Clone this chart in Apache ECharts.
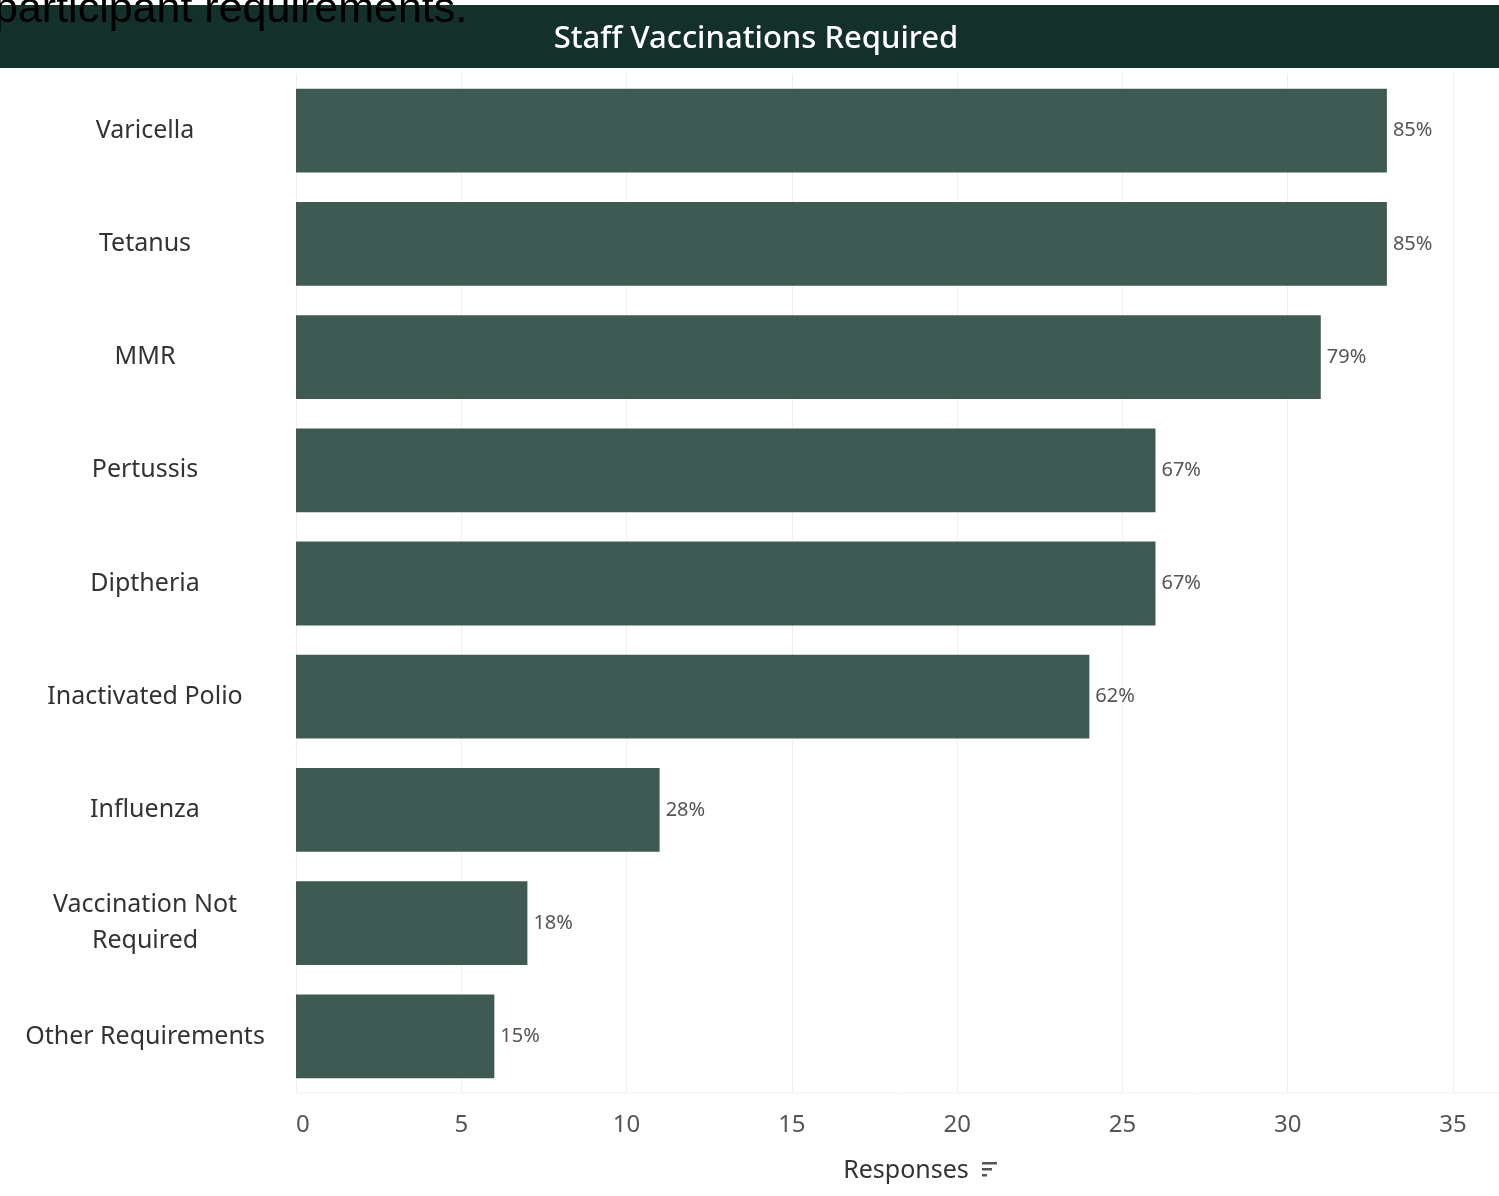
<!DOCTYPE html>
<html>
<head>
<meta charset="utf-8">
<script src="https://cdn.jsdelivr.net/npm/echarts@6/dist/echarts.min.js"></script>
<style>
html,body{margin:0;padding:0;background:#fff;}
#c{width:1499px;height:1196px;}
</style>
</head>
<body>
<div id="c"></div>
<script>
const categories = ["Varicella","Tetanus","MMR","Pertussis","Diptheria","Inactivated Polio","Influenza","Vaccination Not\nRequired","Other Requirements"];
const responses = [33,33,31,26,26,24,11,7,6];
const pctLabels = ["85%","85%","79%","67%","67%","62%","28%","18%","15%"];
const xTicks = [0,5,10,15,20,25,30,35];

const chart = echarts.init(document.getElementById('c'));
const font = "'Noto Sans', 'Open Sans', sans-serif";
chart.setOption({
  animation:false,
  backgroundColor:'#fff',
  grid:{left:296,right:46,top:74,bottom:103,containLabel:false},
  xAxis:{
    type:'value',min:0,max:35,interval:5,
    axisLine:{show:false},axisTick:{show:false},
    splitLine:{show:true,lineStyle:{color:'#efefef',width:1}},
    axisLabel:{fontFamily:font,fontSize:24,color:'#555',margin:20,alignMinLabel:'left',
      formatter:v=>xTicks.includes(v)?String(v):''}
  },
  yAxis:{
    type:'category',data:categories,inverse:true,
    axisLine:{show:false},axisTick:{show:false},
    axisLabel:{fontFamily:font,fontSize:25,color:'#333',align:'center',margin:151,lineHeight:36,padding:[6,0,0,0]}
  },
  series:[{
    type:'bar',data:responses,barCategoryGap:'26%',
    itemStyle:{color:'#3f5a53'},
    label:{show:true,position:'right',distance:6,fontFamily:font,fontSize:20,color:'#555',
      formatter:p=>pctLabels[p.dataIndex]}
  }],
  graphic:[
    {type:'line',shape:{x1:296,y1:1093,x2:1499,y2:1093},style:{stroke:'#efefef',lineWidth:1},z:-1},
    {type:'rect',shape:{x:0,y:5,width:1499,height:63},style:{fill:'#13302b'},z:10},
    {type:'text',x:756,y:39,style:{text:'Staff Vaccinations Required',fill:'#fff',font:"500 31px 'Noto Sans', sans-serif",textAlign:'center',textVerticalAlign:'middle'},z:11},
    {type:'text',x:-6,y:-11,style:{text:'participant requirements.',fill:'#000',font:"43px 'Liberation Sans', Arial, sans-serif",textAlign:'left',textVerticalAlign:'top'},z:12},
    {type:'text',x:906,y:1171,style:{text:'Responses',fill:'#333',font:"25px 'Noto Sans', sans-serif",textAlign:'center',textVerticalAlign:'middle'},z:11},
    {type:'rect',shape:{x:982,y:1162,width:15,height:2.5},style:{fill:'#555'},z:11},
    {type:'rect',shape:{x:982,y:1168,width:10,height:2.5},style:{fill:'#555'},z:11},
    {type:'rect',shape:{x:982,y:1174,width:5,height:2.5},style:{fill:'#555'},z:11}
  ]
});
</script>
</body>
</html>
